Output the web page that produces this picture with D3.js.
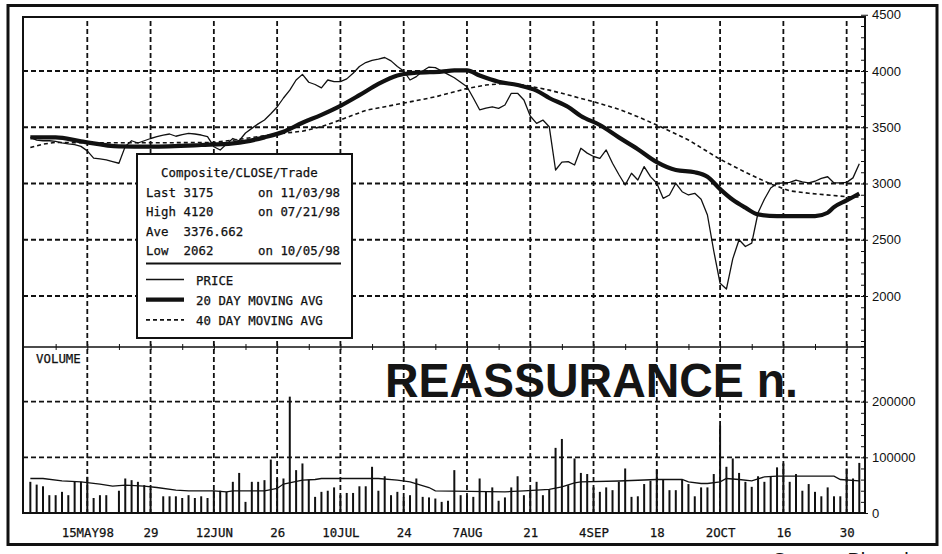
<!DOCTYPE html>
<html lang="en">
<head>
<meta charset="utf-8">
<script src="https://d3js.org/d3.v7.min.js"></script>
<style>
  body { margin: 0; background: #fff; }
  svg { display: block; }
  .mono { font-family: "DejaVu Sans Mono", monospace; font-size: 12.4px; fill: #111; stroke: #111; stroke-width: 0.25px; }
  .axis text { font-family: "Liberation Sans", Arial, sans-serif; font-size: 13px; fill: #111; }
  .axis line { stroke: #111; }
  .xaxis text { font-family: "DejaVu Sans Mono", monospace; font-size: 12.4px; fill: #111; stroke: #111; stroke-width: 0.25px; }
  .grid { stroke: #111; stroke-width: 1.8; stroke-dasharray: 5,3; fill: none; }
</style>
</head>
<body>
<div id="chart"></div>
<script>
// daily closes, one per weekday starting Mon 4 May 1998 (index 0) to Tue 3 Nov 1998 (index 131)
var price = [
  3410, 3385, 3380, 3380, 3375, 3362, 3352, 3345, 3330, 3290,
  3225, 3218, 3210, 3195, 3180, 3330, 3380, 3360, 3380, 3400,
  3416, 3430, 3440, 3420, 3435, 3446, 3440, 3431, 3416, 3327,
  3298, 3350, 3400, 3380, 3449, 3490, 3530, 3564, 3620, 3680,
  3760, 3830, 3920, 3970, 3900, 3880, 3850, 3920, 3905, 3905,
  3930, 3980, 4040, 4075, 4095, 4105, 4120, 4090, 4040, 4000,
  3920, 3950, 4000, 4035, 4030, 4000, 3970, 3940, 3900, 3860,
  3760, 3655, 3670, 3682, 3668, 3698, 3802, 3802, 3742, 3600,
  3535, 3564, 3505, 3120, 3190, 3194, 3164, 3313, 3270, 3240,
  3224, 3298, 3180, 3080, 2987, 3091, 3031, 3150, 3061, 3002,
  2868, 2898, 3002, 2927, 2898, 2913, 2860, 2720, 2400, 2113,
  2062, 2330, 2500, 2440, 2470, 2740, 2860, 2960, 3000, 3005,
  3010, 3030, 3015, 3005, 3020, 3045, 3060, 3005, 3005, 3010,
  3050, 3175
];

var ma20Days = [0, 4, 8, 14, 19, 27, 32, 34, 37, 40, 43, 46, 49, 52, 55, 58, 61, 65, 67, 69,
  71, 74, 77, 80, 82, 85, 87, 90, 93, 96, 99, 102, 105, 107, 109, 111, 113, 115, 118, 124,
  126, 127, 129, 131];
var ma20 = [3410, 3410, 3375, 3330, 3327, 3342, 3357, 3372, 3410, 3460, 3540, 3610, 3690, 3785, 3885, 3960, 3985, 3995, 4005, 4005,
  3960, 3905, 3875, 3825, 3760, 3680, 3600, 3520, 3410, 3305, 3190, 3120, 3100, 3060, 2950, 2855, 2785, 2725, 2710, 2710,
  2740, 2790, 2850, 2910];

var ma40Days = [0, 2, 4, 10, 20, 29, 32, 39, 43, 46, 49, 53, 59, 64, 69, 72, 75, 78, 82, 85,
  89, 93, 96, 99, 104, 109, 113, 117, 120, 123, 129, 131];
var ma40 = [3320, 3350, 3365, 3362, 3362, 3365, 3385, 3440, 3465, 3505, 3565, 3650, 3715, 3770, 3845, 3875, 3890, 3876, 3830, 3787,
  3727, 3660, 3594, 3520, 3387, 3215, 3100, 2995, 2935, 2913, 2883, 2880];

// daily volume (null = no bar)
var volume = [
  56000, 51000, 48000, 32000, 32000, 38000, 32000, 56000, 56000, 65000,
  27000, 32000, 32000, null, 40000, 62000, 59000, 56000, 50000, 44000,
  null, 30000, 30000, 30000, 27000, 32000, 27000, 30000, 27000, 40000,
  40000, 38000, 56000, 72000, 20000, 56000, 56000, 59000, 96000, 62000,
  62000, 209000, 77000, 89000, 60000, 29000, 38000, 40000, 46000, 32000,
  36000, 36000, 48000, 48000, 83000, 40000, 66000, 32000, 38000, 28000,
  32000, 62000, 29000, 28000, 26000, 20000, 22000, 77000, 32000, 32000,
  29000, 62000, 38000, 46000, 22000, 28000, 46000, 66000, 32000, 41000,
  56000, 32000, 42000, 117000, 133000, 50000, 98000, 72000, 70000, 46000,
  38000, 46000, 41000, 56000, 80000, 29000, 30000, 52000, 58000, 78000,
  60000, 41000, 41000, 60000, 52000, 30000, 46000, 46000, 70000, 157000,
  83000, 98000, 72000, 56000, 47000, 66000, 56000, 65000, 82000, 89000,
  56000, 70000, 40000, 52000, 38000, 30000, 46000, 30000, 30000, 80000,
  62000, 90000
];

var volAvgDays = [0, 2, 5, 8, 11, 13, 15, 18, 20, 23, 25, 29, 31, 32, 37, 39, 40, 43, 45, 46,
  55, 58, 60, 63, 64, 75, 78, 82, 84, 86, 87, 93, 99, 103, 104, 106, 107, 109, 110, 112,
  114, 116, 118, 127, 128, 131];
var volAvg = [62000, 62000, 57700, 56000, 51800, 48200, 50000, 48200, 45800, 41100, 39900, 39900, 38000, 39900, 39900, 44000, 52000, 58900, 60200, 62000,
  62000, 58900, 55900, 45800, 39900, 38000, 39900, 42300, 47000, 54100, 55900, 57500, 60200, 60200, 55900, 53000, 53000, 55900, 62000, 60200,
  57700, 64800, 66100, 66100, 60200, 57700];

var gridDays = [9, 19, 29, 39, 49, 59, 69, 79, 89, 99, 109, 119, 129];
var gridLabels = ["15MAY98", "29", "12JUN", "26", "10JUL", "24", "7AUG", "21", "4SEP", "18", "2OCT", "16", "30"];

var priceTicks = [2000, 2500, 3000, 3500, 4000, 4500];
var priceGrid = [2000, 2500, 3000, 3500, 4000];
var volTicks = [0, 100000, 200000];
var volGrid = [100000, 200000];

var statLabels = ["Last", "High", "Ave", "Low"];
var statValues = ["3175", "4120", "3376.662", "2062"];
var statDates = ["on 11/03/98", "on 07/21/98", "", "on 10/05/98"];
var legendNames = ["PRICE", "20 DAY MOVING AVG", "40 DAY MOVING AVG"];

/* layout */
var width = 942, height = 554;
var plotLeft = 23, plotRight = 865, plotTop = 17, split = 347, plotBottom = 513;

var svg = d3.select("#chart").append("svg")
  .attr("width", width)
  .attr("height", height);

svg.append("rect").attr("width", width).attr("height", height).attr("fill", "#fff");

var x = d3.scaleLinear().domain([-1.16, 131.9]).range([plotLeft, plotRight]);
var yP = d3.scaleLinear().domain([2000, 4000]).range([296, 71]);
var yV = d3.scaleLinear().domain([0, 300000]).range([plotBottom, 346]);

svg.append("clipPath").attr("id", "clipP")
  .append("rect").attr("x", plotLeft).attr("y", plotTop)
  .attr("width", plotRight - plotLeft).attr("height", split - plotTop);

/* grid */
svg.append("g").selectAll("line")
  .data(gridDays).enter().append("line")
  .attr("class", "grid")
  .attr("x1", d => x(d)).attr("x2", d => x(d))
  .attr("y1", plotTop + 4).attr("y2", plotBottom);

svg.append("g").selectAll("line")
  .data(priceGrid).enter().append("line")
  .attr("class", "grid")
  .attr("x1", plotLeft).attr("x2", plotRight)
  .attr("y1", d => yP(d)).attr("y2", d => yP(d));

svg.append("g").selectAll("line")
  .data(volGrid).enter().append("line")
  .attr("class", "grid")
  .attr("x1", plotLeft).attr("x2", plotRight)
  .attr("y1", d => yV(d)).attr("y2", d => yV(d));

/* price panel lines */
var series = svg.append("g").attr("clip-path", "url(#clipP)");

var ma40Line = d3.line().x((d, i) => x(ma40Days[i])).y(d => yP(d));
series.append("path")
  .attr("d", ma40Line(ma40))
  .attr("fill", "none").attr("stroke", "#111")
  .attr("stroke-width", 1.6).attr("stroke-dasharray", "4,3");

var priceLine = d3.line().x((d, i) => x(i)).y(d => yP(d));
series.append("path")
  .attr("d", priceLine(price))
  .attr("fill", "none").attr("stroke", "#111")
  .attr("stroke-width", 1.3).attr("stroke-linejoin", "round");

var ma20Line = d3.line().x((d, i) => x(ma20Days[i])).y(d => yP(d)).curve(d3.curveMonotoneX);
series.append("path")
  .attr("d", ma20Line(ma20))
  .attr("fill", "none").attr("stroke", "#111")
  .attr("stroke-width", 4.2).attr("stroke-linejoin", "round");

/* volume */
svg.append("g").selectAll("line")
  .data(volume.map((v, i) => ({ i: i, v: v })).filter(d => d.v != null))
  .enter().append("line")
  .attr("x1", d => x(d.i)).attr("x2", d => x(d.i))
  .attr("y1", yV(0)).attr("y2", d => yV(d.v))
  .attr("stroke", "#111").attr("stroke-width", 2);

var volLine = d3.line().x((d, i) => x(volAvgDays[i])).y(d => yV(d));
svg.append("path")
  .attr("d", volLine(volAvg))
  .attr("fill", "none").attr("stroke", "#111").attr("stroke-width", 1.3);

svg.append("text").attr("class", "mono")
  .attr("x", 36).attr("y", 363)
  .text("VOLUME");

svg.append("text")
  .attr("x", 385).attr("y", 397)
  .attr("textLength", 413).attr("lengthAdjust", "spacingAndGlyphs")
  .style("font-family", "'Liberation Sans', Arial, sans-serif")
  .style("font-weight", "bold").style("font-size", "49px")
  .attr("fill", "#151515")
  .text("REASSURANCE n.");

/* frame */
svg.append("rect")
  .attr("x", plotLeft).attr("y", plotTop)
  .attr("width", plotRight - plotLeft).attr("height", plotBottom - plotTop)
  .attr("fill", "none").attr("stroke", "#111").attr("stroke-width", 2);

svg.append("line")
  .attr("x1", plotLeft).attr("x2", plotRight)
  .attr("y1", split).attr("y2", split)
  .attr("stroke", "#111").attr("stroke-width", 1.5);

svg.append("rect")
  .attr("x", 8).attr("y", 5.5).attr("width", 929).attr("height", 539)
  .attr("fill", "none").attr("stroke", "#111").attr("stroke-width", 3);

/* week ticks on the split line */
svg.append("g").attr("class", "axis")
  .attr("transform", `translate(0,${split - 3})`)
  .call(d3.axisBottom(x).tickValues(d3.range(4, 132, 5)).tickSize(6).tickFormat(""))
  .call(g => g.select(".domain").remove());

/* right axes */
svg.append("g").attr("class", "axis")
  .attr("transform", `translate(${plotRight},0)`)
  .call(d3.axisLeft(yP).tickValues(d3.range(1600, 4501, 100)).tickSize(4).tickFormat(""))
  .call(g => g.select(".domain").remove());

svg.append("g").attr("class", "axis")
  .attr("transform", `translate(${plotRight},0)`)
  .call(d3.axisRight(yP).tickValues(priceTicks).tickSize(3).tickPadding(4).tickFormat(d3.format("d")))
  .call(g => g.select(".domain").remove());

svg.append("g").attr("class", "axis")
  .attr("transform", `translate(${plotRight},0)`)
  .call(d3.axisLeft(yV).tickValues(d3.range(0, 300001, 20000)).tickSize(4).tickFormat(""))
  .call(g => g.select(".domain").remove());

svg.append("g").attr("class", "axis")
  .attr("transform", `translate(${plotRight},0)`)
  .call(d3.axisRight(yV).tickValues(volTicks).tickSize(3).tickPadding(4).tickFormat(d3.format("d")))
  .call(g => g.select(".domain").remove());

/* bottom date axis */
svg.append("g").attr("class", "xaxis")
  .attr("transform", `translate(0,${plotBottom})`)
  .call(d3.axisBottom(x).tickValues(gridDays).tickSize(0).tickPadding(15)
    .tickFormat((d, i) => gridLabels[i]))
  .call(g => g.select(".domain").remove());

/* legend box */
var lg = svg.append("g");
lg.append("rect")
  .attr("x", 137).attr("y", 154).attr("width", 215).attr("height", 184)
  .attr("fill", "#fff").attr("stroke", "#111").attr("stroke-width", 2);

lg.append("text").attr("class", "mono")
  .attr("x", 161).attr("y", 177)
  .text("Composite/CLOSE/Trade");

statLabels.forEach(function(s, i) {
  var yy = 197 + i * 19.4;
  lg.append("text").attr("class", "mono").attr("x", 146).attr("y", yy).text(s);
  lg.append("text").attr("class", "mono").attr("x", 183.5).attr("y", yy).text(statValues[i]);
  lg.append("text").attr("class", "mono").attr("x", 258).attr("y", yy).text(statDates[i]);
});

lg.append("line")
  .attr("x1", 146).attr("x2", 341).attr("y1", 263.5).attr("y2", 263.5)
  .attr("stroke", "#111").attr("stroke-width", 2);

var sampleW = [1.3, 4.2, 1.6];
var sampleDash = [null, null, "4,3"];
legendNames.forEach(function(name, i) {
  var yy = 285 + i * 20.2;
  lg.append("line")
    .attr("x1", 146).attr("x2", 184).attr("y1", yy - 5.5).attr("y2", yy - 5.5)
    .attr("stroke", "#111").attr("stroke-width", sampleW[i])
    .attr("stroke-dasharray", sampleDash[i]);
  lg.append("text").attr("class", "mono").attr("x", 196).attr("y", yy).text(name);
});

/* source note, cut by the page edge as in the scan */
svg.append("text")
  .attr("x", 773).attr("y", 567)
  .style("font-family", "'Liberation Sans', Arial, sans-serif")
  .style("font-size", "20px")
  .attr("fill", "#111")
  .text("Source: Bloomberg");
</script>
</body>
</html>
